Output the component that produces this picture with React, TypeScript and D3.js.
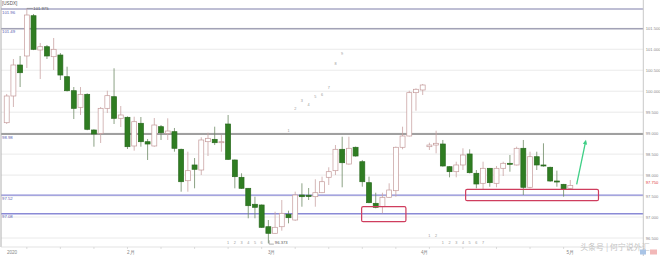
import React from 'react';
import * as d3 from 'd3';

const W = 660;
const H = 256;

// OHLC values, daily candles
const opens = [99.249, 99.886, 100.625, 100.84, 101.8, 100.983, 101.061, 100.823, 100.863, 100.346, 100.012, 99.616, 99.926, 99.075, 98.996, 99.592, 99.869, 99.354, 99.378, 98.694, 99.235, 98.796, 98.694, 99.154, 98.996, 99.035, 98.615, 97.866, 98.241, 98.121, 98.796, 98.853, 98.772, 99.218, 98.36, 97.947, 97.685, 97.304, 97.287, 96.769, 96.612, 96.769, 97.065, 96.929, 97.525, 97.52, 97.485, 97.58, 97.947, 98.105, 98.615, 98.264, 98.663, 98.319, 97.819, 97.327, 97.246, 97.47, 97.628, 98.663, 98.932, 99.965, 100.029, 98.677, 98.717, 98.741, 98.2, 98.081, 98.241, 98.503, 98.043, 97.804, 98.162, 97.804, 98.162, 98.281, 98.241, 98.639, 97.709, 98.438, 98.241, 98.186, 97.859, 97.78, 97.685];
const highs = [99.934, 100.768, 100.84, 101.975, 101.841, 101.15, 101.102, 101.269, 100.911, 100.584, 100.1, 100.1, 99.95, 99.092, 99.624, 100.012, 100.546, 99.647, 99.4, 99.392, 99.385, 98.861, 99.361, 99.194, 99.354, 99.123, 98.63, 98.558, 98.407, 98.901, 99.011, 99.154, 98.956, 99.433, 98.37, 98.043, 97.69, 97.485, 97.3, 96.929, 97.127, 97.406, 97.151, 97.604, 97.804, 97.692, 97.9, 97.962, 98.186, 98.717, 98.915, 98.915, 98.68, 98.36, 97.962, 97.58, 97.58, 97.804, 98.68, 99.154, 100.012, 100.069, 100.172, 98.772, 99.058, 98.837, 98.21, 98.319, 98.639, 98.615, 98.121, 98.319, 98.17, 98.217, 98.319, 98.479, 98.677, 98.837, 98.558, 98.558, 98.758, 98.2, 98.105, 97.79, 97.883];
const lows = [99.218, 99.624, 100.1, 100.553, 100.98, 100.291, 100.768, 100.506, 100.267, 99.993, 99.337, 99.433, 99.07, 98.677, 98.765, 99.48, 99.218, 99.147, 98.622, 98.582, 98.677, 98.36, 98.677, 98.837, 98.837, 98.558, 97.604, 97.604, 97.685, 98.002, 98.455, 98.717, 98.558, 98.36, 97.685, 97.67, 96.97, 96.97, 96.74, 96.373, 96.6, 96.674, 96.85, 96.91, 97.246, 97.406, 97.246, 97.57, 97.764, 98.002, 97.709, 98.25, 98.44, 97.723, 97.33, 97.208, 97.089, 97.46, 97.485, 98.615, 98.92, 99.535, 99.91, 98.598, 98.519, 98.2, 97.947, 97.947, 98.121, 98.04, 97.685, 97.645, 97.723, 97.709, 97.978, 98.081, 98.23, 97.525, 97.685, 98.121, 98.2, 97.84, 97.723, 97.485, 97.67];
const closes = [99.886, 100.625, 100.441, 101.817, 100.999, 101.061, 100.84, 100.999, 100.386, 100.012, 99.592, 99.926, 99.092, 98.98, 99.592, 99.893, 99.354, 99.433, 98.677, 99.273, 98.796, 98.741, 99.194, 99.011, 99.051, 98.639, 97.842, 98.105, 98.138, 98.837, 98.877, 98.772, 98.796, 98.376, 97.962, 97.685, 97.27, 97.232, 96.755, 96.612, 96.755, 97.089, 96.984, 97.525, 97.485, 97.49, 97.58, 97.842, 98.081, 98.615, 98.295, 98.639, 98.455, 97.842, 97.342, 97.232, 97.47, 97.644, 98.663, 98.932, 99.965, 100.046, 100.148, 98.717, 98.758, 98.217, 98.081, 98.241, 98.479, 98.057, 97.788, 98.162, 97.819, 98.162, 98.281, 98.257, 98.639, 97.709, 98.438, 98.241, 98.217, 97.859, 97.835, 97.668, 97.75];

// Axes
const priceTicks = [96.5, 97, 97.5, 98, 98.5, 99, 99.5, 100, 100.5, 101, 101.5];
const keyLevels = [101.96, 101.49, 98.98, 97.52, 97.08];
const keyLevelLabels = ['101.96', '101.49', '98.98', '97.52', '97.08'];
const monthTickIdx = [0.8, 18.5, 39.5, 62.3, 84];
const monthLabels = ['2020', '2月', '3月', '4月', '5月'];

// Small count digits
const countTopIdx = [42, 43, 44, 45, 46, 47, 48, 49, 50];
const countTopVal = [99.063, 99.593, 99.774, 99.678, 99.862, 99.91, 100.093, 100.665, 100.886];
const countLow1Idx = [33, 34, 35, 36, 37, 38];
const countLow1Val = [96.4, 96.4, 96.4, 96.4, 96.4, 96.4];
const countLow2Idx = [63, 64, 65, 66, 67, 68, 69, 70, 71];
const countLow2Val = [96.56, 96.56, 96.39, 96.39, 96.39, 96.39, 96.39, 96.39, 96.39];
const countLow2Text = ['1', '2', '1', '2', '3', '4', '5', '6', '7'];

// Annotations
const highIdx = 3;
const highVal = 101.975;
const lowIdx = 39;
const lowVal = 96.373;
const lastVal = 97.75;
const boxA = { i0: 52.9, i1: 59.5, v0: 97.246, v1: 96.889 };
const boxB = { i0: 68.4, i1: 88.2, v0: 97.661, v1: 97.389 };
const arrowFrom = [84.95, 97.78];
const arrowTo = [86.33, 98.84];

const levelColors = ['#a9a9c6', '#a2a2b6', '#a0a0a0', '#8a8ad6', '#8a8ad6'];
const levelWidths = [1.5, 1.5, 1.8, 1.2, 1.5];

export default function App() {
  const x = d3.scaleLinear().domain([0, 84]).range([6.7, 570.3]);
  const y = d3.scaleLinear().domain([96.5, 101.5]).range([238.0, 28.3]);
  const step = x(1) - x(0);
  const bw = step * 0.74;
  const fmt3 = d3.format('.3f');
  const font = 'Liberation Sans, Arial, sans-serif';
  const axisX = 643.3;
  const axisY = 247;
  const minorTicks = d3.range(3, 95, 5);

  const arrowAngle = Math.atan2(y(arrowTo[1]) - y(arrowFrom[1]), x(arrowTo[0]) - x(arrowFrom[0]));
  const ax = x(arrowTo[0]);
  const ay = y(arrowTo[1]);
  const head = 5;
  const headPts = [
    [ax, ay],
    [ax - head * Math.cos(arrowAngle - 0.45), ay - head * Math.sin(arrowAngle - 0.45)],
    [ax - head * Math.cos(arrowAngle + 0.45), ay - head * Math.sin(arrowAngle + 0.45)],
  ];

  return (
    <div style={{ position: 'absolute', left: 0, top: 0, width: W, height: H, background: '#fff' }}>
      <svg width={W} height={H} style={{ display: 'block' }} fontFamily={font}>
        <rect x={0} y={0} width={W} height={H} fill="#fff" />
        {/* grid */}
        {priceTicks.map((v) => (
          <line key={'g' + v} x1={1} x2={axisX} y1={y(v)} y2={y(v)} stroke="#e4e4e4" strokeWidth={0.8} />
        ))}
        {/* key levels */}
        {keyLevels.map((v, i) => (
          <g key={'k' + v}>
            <line x1={1} x2={axisX} y1={y(v)} y2={y(v)} stroke={levelColors[i]} strokeWidth={levelWidths[i]} />
            <text x={2} y={y(v) + 4.6} fontSize={4.3} fill="#5a5ab0">{keyLevelLabels[i]}</text>
          </g>
        ))}
        {/* frame */}
        <line x1={1} x2={1} y1={0} y2={axisY} stroke="#b0b0b0" strokeWidth={1} />
        <line x1={axisX} x2={axisX} y1={0} y2={H} stroke="#c8c8c8" strokeWidth={1} />
        <line x1={1} x2={axisX} y1={axisY} y2={axisY} stroke="#dcdcdc" strokeWidth={0.8} />
        {minorTicks.map((t) => (
          <line key={'mt' + t} x1={x(t)} x2={x(t)} y1={axisY} y2={axisY + 2} stroke="#c8c8c8" strokeWidth={0.6} />
        ))}
        {monthTickIdx.map((t, i) => (
          <text key={'ml' + i} x={x(t)} y={253.5} fontSize={4.6} fill="#888" textAnchor="middle">{monthLabels[i]}</text>
        ))}
        {/* right axis */}
        {priceTicks.map((v) => (
          <text key={'r' + v} x={axisX + 2.5} y={y(v) + 1.5} fontSize={4.1} fill="#8a8a8a">{fmt3(v)}</text>
        ))}
        <text x={axisX + 2.5} y={y(lastVal) - 1.2} fontSize={4.1} fill="#e03a3a">{fmt3(lastVal)}</text>
        {/* title */}
        <text x={2} y={5} fontSize={4.6} fill="#555">[USDX]</text>

        {/* candles */}
        {opens.map((o, i) => {
          const c = closes[i];
          const up = c >= o;
          const cx = x(i);
          const top = y(Math.max(o, c));
          const bot = y(Math.min(o, c));
          const h = Math.max(1, bot - top);
          return (
            <g key={'c' + i}>
              <line x1={cx} x2={cx} y1={y(highs[i])} y2={y(lows[i])} stroke={up ? '#c9a3a3' : '#6f8a66'} strokeWidth={0.8} />
              <rect
                x={cx - bw / 2}
                y={top}
                width={bw}
                height={h}
                fill={up ? '#ffffff' : '#2f7d22'}
                stroke={up ? '#c49a9a' : '#2a6a1f'}
                strokeWidth={0.7}
              />
            </g>
          );
        })}

        {/* count digits */}
        {countTopIdx.map((t, i) => (
          <text key={'ct' + i} x={x(t)} y={y(countTopVal[i]) + 1.4} fontSize={3.8} fill="#999" textAnchor="middle">{i + 1}</text>
        ))}
        {countLow1Idx.map((t, i) => (
          <text key={'cl' + i} x={x(t)} y={y(countLow1Val[i]) + 1.4} fontSize={3.8} fill="#999" textAnchor="middle">{i + 1}</text>
        ))}
        {countLow2Idx.map((t, i) => (
          <text key={'cm' + i} x={x(t)} y={y(countLow2Val[i]) + 1.4} fontSize={3.8} fill="#999" textAnchor="middle">{countLow2Text[i]}</text>
        ))}

        {/* high / low labels */}
        <line x1={x(highIdx)} x2={x(highIdx) + 6} y1={y(highVal)} y2={y(highVal)} stroke="#777" strokeWidth={0.6} />
        <text x={x(highIdx) + 6.5} y={y(highVal) + 1.5} fontSize={4.2} fill="#555">{fmt3(highVal)}</text>
        <polyline
          points={`${x(lowIdx) + 0.8},${y(lowVal) - 3} ${x(lowIdx) + 0.8},${y(lowVal) + 0.8} ${x(lowIdx) + 5.5},${y(lowVal) + 0.8}`}
          fill="none"
          stroke="#777"
          strokeWidth={0.6}
        />
        <text x={x(lowIdx) + 6.5} y={y(lowVal) + 0.8} fontSize={4.2} fill="#555">{fmt3(lowVal)}</text>

        {/* boxes */}
        {[boxA, boxB].map((b, i) => (
          <rect
            key={'b' + i}
            x={x(b.i0)}
            y={y(b.v0)}
            width={x(b.i1) - x(b.i0)}
            height={y(b.v1) - y(b.v0)}
            rx={1.5}
            fill="none"
            stroke="#cf3d5e"
            strokeWidth={1.2}
          />
        ))}

        {/* arrow */}
        <line
          x1={x(arrowFrom[0])}
          y1={y(arrowFrom[1])}
          x2={ax - 2 * Math.cos(arrowAngle)}
          y2={ay - 2 * Math.sin(arrowAngle)}
          stroke="#3fcf86"
          strokeWidth={1.3}
        />
        <polygon points={headPts.map((p) => p.join(',')).join(' ')} fill="#3fcf86" />

        {/* watermark and corner icons */}
        <text x={615} y={249.5} fontSize={8} fill="#c4c4c4" textAnchor="middle" fontFamily="Noto Sans CJK SC, sans-serif">头条号 | 何宁说外汇</text>
        <rect x={640} y={249.5} width={6} height={5} fill="#a9c4e6" />
        <rect x={650} y={249.5} width={7} height={5} fill="#f2b8b8" />
      </svg>
    </div>
  );
}
